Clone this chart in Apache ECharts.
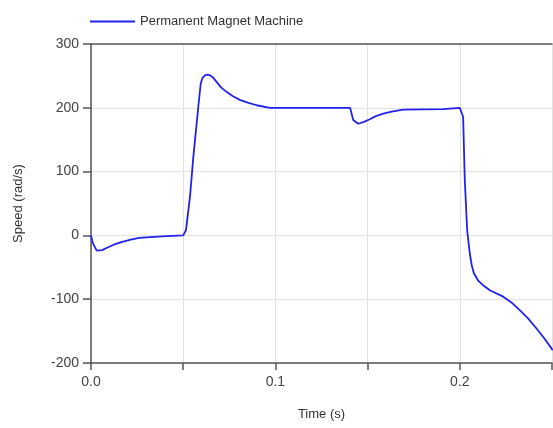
<!DOCTYPE html>
<html>
<head>
<meta charset="utf-8">
<script src="https://cdn.jsdelivr.net/npm/echarts@6/dist/echarts.min.js"></script>
<style>
  html, body { margin: 0; padding: 0; background: #fff; }
  #chart { width: 553px; height: 428px; }
</style>
</head>
<body>
<div id="chart"></div>
<script>
// values
const seriesName = 'Permanent Magnet Machine';
const time = [0, 0.001, 0.0031, 0.006, 0.009, 0.012, 0.016, 0.021, 0.026, 0.030, 0.041, 0.050, 0.0515, 0.0537, 0.0555, 0.0582, 0.0595, 0.0605, 0.0618, 0.063, 0.0645, 0.066, 0.068, 0.0705, 0.0735, 0.077, 0.081, 0.085, 0.0898, 0.097, 0.120, 0.1405, 0.1422, 0.1449, 0.148, 0.1512, 0.1545, 0.1585, 0.163, 0.1693, 0.191, 0.200, 0.2018, 0.2027, 0.204, 0.2054, 0.2065, 0.2076, 0.210, 0.213, 0.2163, 0.2235, 0.228, 0.2325, 0.237, 0.2416, 0.246, 0.2504];
const speed = [0, -12, -24, -23, -19, -15, -11, -7, -4, -3, -1, 0, 8, 61, 123, 202, 238, 247, 251, 252, 251, 248, 241, 232, 225, 218, 212, 208, 204, 200, 200, 200, 181, 175, 178, 182, 187, 191, 194, 197, 198, 200, 186, 87, 8, -28, -47, -59, -71, -79, -86, -96, -105, -117, -130, -146, -162, -180];
const xTicks = [0, 0.05, 0.1, 0.15, 0.2, 0.25];
const yTicks = [-200, -100, 0, 100, 200, 300];

const chart = echarts.init(document.getElementById('chart'));
const font = 'Liberation Sans';
const pts = time.map((t, i) => [t, speed[i]]);
const xMin = xTicks[0], xMax = xTicks[xTicks.length - 1];

chart.setOption({
  animation: false,
  textStyle: { fontFamily: font },
  grid: { left: 91, right: 1, top: 44, bottom: 65, outerBoundsMode: 'none' },
  legend: {
    data: [{ name: seriesName, icon: 'rect' }],
    left: 85, top: 10, itemWidth: 45, itemHeight: 2, itemGap: 10,
    textStyle: { fontFamily: font, fontSize: 13, color: '#333' }
  },
  xAxis: [{
    type: 'value', min: xMin, max: xMax, interval: 0.05,
    name: 'Time (s)', nameLocation: 'middle', nameGap: 45,
    nameTextStyle: { fontFamily: font, fontSize: 13, color: '#333' },
    axisLine: { show: true, onZero: false, lineStyle: { color: '#555', width: 1.5 } },
    axisTick: { show: true, length: 7, lineStyle: { color: '#555', width: 1.5 } },
    axisLabel: {
      fontSize: 14, color: '#444', margin: 12,
      formatter: v => (Math.round(v * 100) % 10 === 0 && v < 0.25) ? v.toFixed(1) : ''
    },
    splitLine: { show: true, lineStyle: { color: '#e2e2e2' } }
  }, {
    // top frame line
    type: 'value', position: 'top', min: xMin, max: xMax,
    axisLine: { show: true, onZero: false, lineStyle: { color: '#555', width: 1.5 } },
    axisTick: { show: false }, axisLabel: { show: false }, splitLine: { show: false }
  }],
  yAxis: {
    type: 'value', min: yTicks[0], max: yTicks[yTicks.length - 1], interval: 100,
    name: 'Speed (rad/s)', nameLocation: 'middle', nameGap: 66, nameRotate: 90,
    nameTextStyle: { fontFamily: font, fontSize: 13, color: '#333' },
    axisLine: { show: true, onZero: false, lineStyle: { color: '#555', width: 1.5 } },
    axisTick: { show: true, length: 8, lineStyle: { color: '#555', width: 1.5 } },
    axisLabel: { fontSize: 14, color: '#444', margin: 12 },
    splitLine: { show: true, lineStyle: { color: '#e2e2e2' } }
  },
  series: [{
    name: seriesName, type: 'line', data: pts, showSymbol: false, xAxisIndex: 0,
    lineStyle: { color: '#2222ee', width: 1.8 }, itemStyle: { color: '#2222ee' }
  }]
});
</script>
</body>
</html>
